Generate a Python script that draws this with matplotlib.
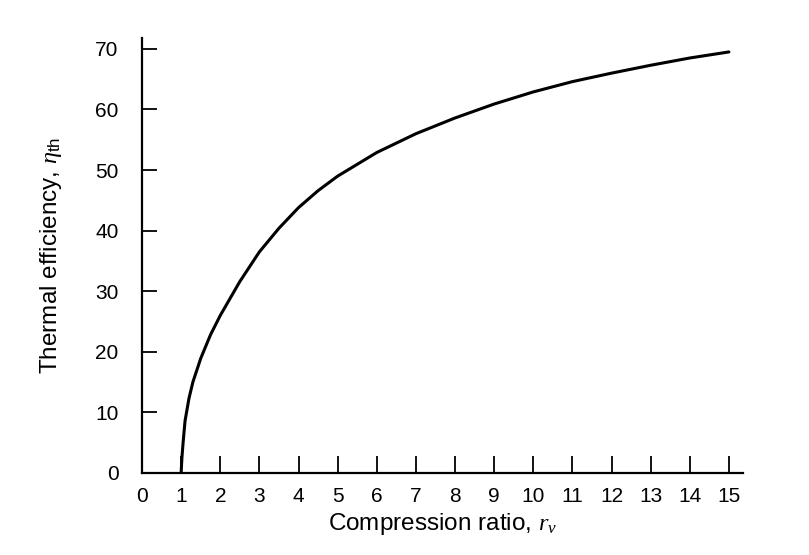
import numpy as np
import matplotlib
matplotlib.use("Agg")
import matplotlib.pyplot as plt

# values
compression_ratio = [1.0, 1.02, 1.05, 1.1, 1.2, 1.3, 1.5, 1.75, 2.0, 2.5, 3.0, 3.5,
                     4.0, 4.5, 5.0, 6.0, 7.0, 8.0, 9.0, 10.0, 11.0, 12.0, 13.0, 14.0, 15.0]
efficiency = [0.0, 2.5, 5.0, 8.6, 12.3, 15.0, 18.9, 22.8, 26.0, 31.6, 36.5, 40.4,
              43.8, 46.6, 49.0, 52.9, 56.0, 58.6, 60.9, 62.9, 64.6, 66.0, 67.3, 68.5, 69.5]

x_ticks = list(range(0, 16))
y_ticks = list(range(0, 71, 10))

plt.rcParams['font.family'] = ['Liberation Sans', 'DejaVu Sans']
plt.rcParams['mathtext.fontset'] = 'custom'
plt.rcParams['mathtext.rm'] = 'Liberation Sans'
plt.rcParams['mathtext.it'] = 'Liberation Serif:italic'

fig = plt.figure(figsize=(8.09, 5.55), dpi=100)
# axes box: x 142..743 px, y 38..473 px
ax = fig.add_axes([142 / 809, 1 - 473 / 555, 601 / 809, 435 / 555])

ax.plot(compression_ratio, efficiency, color='black', lw=2.2,
        solid_capstyle='round', solid_joinstyle='round')

ax.set_xlim(0, 15.36)
ax.set_ylim(0, 71.8)
ax.set_xticks(x_ticks)
ax.set_yticks(y_ticks)

for side in ['top', 'right']:
    ax.spines[side].set_visible(False)
for side in ['left', 'bottom']:
    ax.spines[side].set_linewidth(1.6)

ax.tick_params(axis='both', direction='in', width=1.3, labelsize=15)
ax.tick_params(axis='y', length=11, pad=17)
ax.tick_params(axis='x', length=12, pad=10)

ax.set_xlabel(r'Compression ratio, $r_v$', fontsize=17.5, labelpad=4)
ax.set_ylabel(r'Thermal efficiency, $\eta_{\rm th}$', fontsize=17.5, labelpad=22)

fig.savefig('out.png', dpi=100)
